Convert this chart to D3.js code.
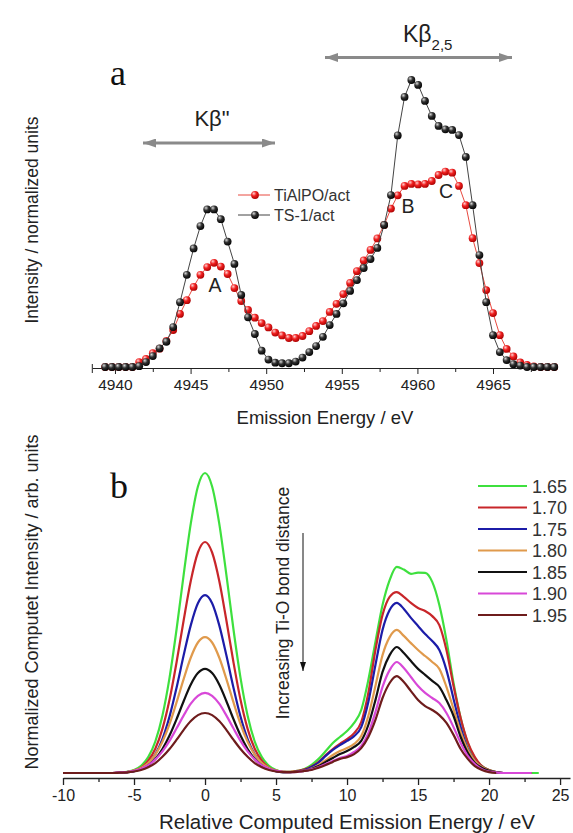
<!DOCTYPE html>
<html>
<head>
<meta charset="utf-8">
<script src="https://cdnjs.cloudflare.com/ajax/libs/d3/7.8.5/d3.min.js"></script>
<style>
  html, body { margin: 0; padding: 0; background: #fff; }
  svg { display: block; font-family: "Liberation Sans", Arial, sans-serif; }
</style>
</head>
<body>
<svg id="fig" width="573" height="833"></svg>
<script>
// ---------- Panel a: measured Ti Kβ emission spectra ----------
const energyA = [
  4939.35, 4939.80, 4940.25, 4940.70, 4941.15, 4941.60, 4942.05, 4942.50, 4942.95, 4943.40,
  4943.85, 4944.30, 4944.75, 4945.20, 4945.65, 4946.10, 4946.55, 4947.00, 4947.45, 4947.90,
  4948.35, 4948.80, 4949.25, 4949.70, 4950.15, 4950.60, 4951.05, 4951.50, 4951.95, 4952.40,
  4952.85, 4953.30, 4953.75, 4954.20, 4954.65, 4955.10, 4955.55, 4956.00, 4956.45, 4956.90,
  4957.35, 4957.80, 4958.25, 4958.70, 4959.15, 4959.60, 4960.05, 4960.50, 4960.95, 4961.40,
  4961.85, 4962.30, 4962.75, 4963.20, 4963.65, 4964.10, 4964.55, 4965.00, 4965.45, 4965.90,
  4966.35, 4966.80, 4967.25, 4967.70, 4968.15, 4968.60, 4969.05
];
const tiAlPO = [
  0, 0, 0, 0, 0, 0.017, 0.028, 0.048, 0.064, 0.091,
  0.129, 0.185, 0.233, 0.279, 0.321, 0.348, 0.363, 0.350, 0.324, 0.275,
  0.230, 0.199, 0.172, 0.153, 0.138, 0.120, 0.110, 0.101, 0.101, 0.108,
  0.125, 0.143, 0.160, 0.192, 0.220, 0.254, 0.293, 0.334, 0.371, 0.408,
  0.448, 0.495, 0.552, 0.598, 0.631, 0.638, 0.636, 0.638, 0.648, 0.669,
  0.681, 0.677, 0.631, 0.564, 0.449, 0.362, 0.268, 0.188, 0.111, 0.063,
  0.037, 0.016, 0.007, 0.002, 0, 0, 0
];
const ts1 = [
  0, 0, 0, 0, 0, 0.003, 0.017, 0.038, 0.065, 0.088,
  0.139, 0.226, 0.321, 0.413, 0.491, 0.549, 0.549, 0.515, 0.437, 0.359,
  0.251, 0.173, 0.115, 0.057, 0.026, 0.015, 0.013, 0.013, 0.019, 0.033,
  0.052, 0.073, 0.105, 0.146, 0.185, 0.222, 0.265, 0.303, 0.345, 0.376,
  0.415, 0.495, 0.599, 0.807, 0.941, 1.000, 0.983, 0.927, 0.875, 0.840,
  0.828, 0.826, 0.808, 0.732, 0.564, 0.390, 0.226, 0.111, 0.052, 0.024,
  0.010, 0.005, 0, 0, 0, 0, 0
];
const seriesNamesA = ["TiAlPO/act", "TS-1/act"];
const ticksA = [4940, 4945, 4950, 4955, 4960, 4965];
const minorTicksA = [4942.5, 4947.5, 4952.5, 4957.5, 4962.5, 4967.5];

// ---------- Panel b: computed spectra vs Ti-O bond length ----------
const relEnergy = [
  -10, -9.5, -9, -8.5, -8, -7.5, -7, -6.5, -6, -5.5,
  -5, -4.5, -4, -3.5, -3, -2.5, -2, -1.5, -1, -0.5,
  0, 0.5, 1, 1.5, 2, 2.5, 3, 3.5, 4, 4.5,
  5, 5.5, 6, 6.5, 7, 7.5, 8, 8.5, 9, 9.5,
  10, 10.5, 11, 11.5, 12, 12.5, 13, 13.5, 14, 14.5,
  15, 15.5, 16, 16.5, 17, 17.5, 18, 18.5, 19, 19.5,
  20, 20.5, 21, 21.5, 22, 22.5, 23, 23.5, 24
];
const bond165 = [
  0, 0, 0, 0, 0, 0, 0, 0, 0.001, 0.004,
  0.010, 0.024, 0.053, 0.105, 0.191, 0.317, 0.480, 0.662, 0.832, 0.955,
  1.000, 0.955, 0.832, 0.662, 0.480, 0.317, 0.191, 0.105, 0.053, 0.024,
  0.010, 0.005, 0.004, 0.007, 0.013, 0.027, 0.047, 0.073, 0.100, 0.120,
  0.140, 0.167, 0.210, 0.310, 0.437, 0.560, 0.643, 0.687, 0.678, 0.664,
  0.668, 0.667, 0.637, 0.560, 0.443, 0.300, 0.183, 0.100, 0.050, 0.023,
  0.010, 0.003, 0, 0, 0, 0, 0, 0, null
];
const bond170 = [
  0, 0, 0, 0, 0, 0, 0, 0, 0.001, 0.003,
  0.008, 0.018, 0.041, 0.081, 0.147, 0.244, 0.370, 0.510, 0.641, 0.735,
  0.770, 0.735, 0.641, 0.510, 0.370, 0.244, 0.147, 0.081, 0.041, 0.018,
  0.008, 0.004, 0.004, 0.007, 0.012, 0.022, 0.037, 0.060, 0.080, 0.097,
  0.113, 0.133, 0.170, 0.267, 0.410, 0.527, 0.587, 0.603, 0.587, 0.567,
  0.550, 0.540, 0.523, 0.493, 0.410, 0.290, 0.183, 0.103, 0.053, 0.023,
  0.010, 0.003, 0, 0, 0, 0, 0, null, null
];
const bond175 = [
  0, 0, 0, 0, 0, 0, 0, 0, 0.001, 0.003,
  0.006, 0.014, 0.031, 0.062, 0.113, 0.188, 0.285, 0.393, 0.493, 0.566,
  0.593, 0.566, 0.493, 0.393, 0.285, 0.188, 0.113, 0.062, 0.031, 0.014,
  0.006, 0.003, 0.003, 0.005, 0.010, 0.020, 0.035, 0.057, 0.077, 0.093,
  0.107, 0.123, 0.153, 0.237, 0.360, 0.477, 0.543, 0.567, 0.547, 0.517,
  0.490, 0.463, 0.440, 0.410, 0.343, 0.247, 0.153, 0.080, 0.040, 0.020,
  0.008, 0.003, 0, 0, null, null, null, null, null
];
const bond180 = [
  0, 0, 0, 0, 0, 0, 0, 0, 0.001, 0.003,
  0.008, 0.017, 0.033, 0.061, 0.104, 0.163, 0.236, 0.314, 0.385, 0.435,
  0.453, 0.435, 0.385, 0.314, 0.236, 0.163, 0.104, 0.061, 0.033, 0.017,
  0.008, 0.004, 0.003, 0.005, 0.008, 0.015, 0.027, 0.043, 0.060, 0.073,
  0.083, 0.097, 0.123, 0.190, 0.290, 0.393, 0.453, 0.477, 0.457, 0.433,
  0.410, 0.390, 0.370, 0.347, 0.287, 0.213, 0.137, 0.077, 0.040, 0.020,
  0.008, 0.003, 0, 0, 0, null, null, null, null
];
const bond185 = [
  0, 0, 0, 0, 0, 0, 0, 0, 0.001, 0.002,
  0.006, 0.013, 0.025, 0.047, 0.080, 0.125, 0.180, 0.240, 0.295, 0.333,
  0.347, 0.333, 0.295, 0.240, 0.180, 0.125, 0.080, 0.047, 0.025, 0.013,
  0.006, 0.003, 0.003, 0.005, 0.007, 0.013, 0.023, 0.037, 0.050, 0.063,
  0.073, 0.087, 0.107, 0.160, 0.243, 0.337, 0.393, 0.420, 0.400, 0.373,
  0.347, 0.327, 0.307, 0.287, 0.243, 0.190, 0.120, 0.067, 0.033, 0.017,
  0.007, 0.002, 0, null, null, null, null, null, null
];
const bond190 = [
  0, 0, 0, 0, 0, 0, 0, 0, 0.002, 0.003,
  0.007, 0.014, 0.026, 0.045, 0.072, 0.107, 0.149, 0.192, 0.231, 0.257,
  0.267, 0.257, 0.231, 0.192, 0.149, 0.107, 0.072, 0.045, 0.026, 0.014,
  0.007, 0.004, 0.003, 0.004, 0.007, 0.012, 0.020, 0.030, 0.040, 0.050,
  0.057, 0.070, 0.090, 0.133, 0.203, 0.287, 0.343, 0.370, 0.350, 0.320,
  0.290, 0.267, 0.250, 0.233, 0.200, 0.153, 0.100, 0.057, 0.030, 0.013,
  0.005, 0.002, 0, 0, 0, 0, 0, null, null
];
const bond195 = [
  0, 0, 0, 0, 0, 0, 0, 0, 0.001, 0.002,
  0.005, 0.010, 0.019, 0.033, 0.054, 0.080, 0.111, 0.144, 0.173, 0.193,
  0.200, 0.193, 0.173, 0.144, 0.111, 0.080, 0.054, 0.033, 0.019, 0.010,
  0.005, 0.003, 0.003, 0.004, 0.007, 0.010, 0.018, 0.027, 0.037, 0.047,
  0.053, 0.063, 0.083, 0.120, 0.177, 0.250, 0.300, 0.323, 0.303, 0.273,
  0.243, 0.223, 0.210, 0.193, 0.167, 0.127, 0.080, 0.047, 0.023, 0.010,
  0.003, 0, null, null, null, null, null, null, null
];
const bondLabels = ["1.65", "1.70", "1.75", "1.80", "1.85", "1.90", "1.95"];
const bondSeries = [bond165, bond170, bond175, bond180, bond185, bond190, bond195];
const bondColors = ["#3ee03e", "#c8262a", "#1c1ca8", "#e09a4c", "#111111", "#d848d8", "#6e1c1c"];
const ticksB = [-10, -5, 0, 5, 10, 15, 20, 25];
const minorTicksB = [-7.5, -2.5, 2.5, 7.5, 12.5, 17.5, 22.5];

const svg = d3.select("#fig");
const defs = svg.append("defs");
const plain = d => `${d}`;   // tick text as plain integers with hyphen minus

// shaded sphere fills for the data markers
function sphere(id, light, mid, dark) {
  const g = defs.append("radialGradient").attr("id", id)
    .attr("cx", "38%").attr("cy", "34%").attr("r", "70%").attr("fx", "34%").attr("fy", "30%");
  g.append("stop").attr("offset", "0%").attr("stop-color", light);
  g.append("stop").attr("offset", "45%").attr("stop-color", mid);
  g.append("stop").attr("offset", "100%").attr("stop-color", dark);
}
sphere("ballRed", "#ffd0d0", "#f02020", "#a80000");
sphere("ballBlack", "#d8d8d8", "#303030", "#000000");

function arrowHead(id, color, w, h) {
  defs.append("marker").attr("id", id)
    .attr("viewBox", `0 0 ${w} ${h}`).attr("refX", w).attr("refY", h / 2)
    .attr("markerWidth", w).attr("markerHeight", h).attr("markerUnits", "userSpaceOnUse")
    .attr("orient", "auto-start-reverse")
    .append("path").attr("d", `M0,0L${w},${h / 2}L0,${h}Z`).attr("fill", color);
}
arrowHead("grayHead", "#8a8a8a", 13, 9);
arrowHead("blackHead", "#111", 9, 6);

// ================= Panel a =================
const xA = d3.scaleLinear().domain([4938.5, 4969]).range([92.3, 553.5]);
const yA = d3.scaleLinear().domain([0, 1]).range([367, 80]);

const axA = svg.append("g").attr("transform", "translate(0,368)");
axA.call(d3.axisBottom(xA).tickValues(ticksA).tickFormat(plain).tickSize(6).tickSizeOuter(0).tickPadding(5));
axA.append("g").call(d3.axisBottom(xA).tickValues(minorTicksA).tickSize(4).tickFormat(""))
  .select(".domain").remove();
axA.selectAll("path.domain").attr("stroke", "#222");
axA.selectAll(".tick line").attr("stroke", "#222");
axA.selectAll(".tick text").attr("font-size", 15.5).attr("fill", "#222")
  .attr("font-family", "Liberation Sans, Arial, sans-serif");
axA.append("line").attr("x1", xA(4938.5)).attr("x2", xA(4938.5)).attr("y1", -4).attr("y2", 5)
  .attr("stroke", "#222");

svg.append("text").attr("x", 325).attr("y", 424).attr("text-anchor", "middle")
  .attr("font-size", 18.5).attr("fill", "#222").text("Emission Energy / eV");
svg.append("text").attr("transform", "translate(38,220) rotate(-90)").attr("text-anchor", "middle")
  .attr("font-size", 17.5).attr("fill", "#222").text("Intensity / normalized units");

const lineA = d3.line().x(d => xA(d[0])).y(d => yA(d[1]));
const ptsRed = energyA.map((e, i) => [e, tiAlPO[i]]);
const ptsBlack = energyA.map((e, i) => [e, ts1[i]]);

svg.append("path").attr("d", lineA(ptsRed)).attr("fill", "none").attr("stroke", "#e84a40").attr("stroke-width", 1);
svg.append("g").selectAll("circle").data(ptsRed).join("circle")
  .attr("cx", d => xA(d[0])).attr("cy", d => yA(d[1])).attr("r", 3.9).attr("fill", "url(#ballRed)");
svg.append("path").attr("d", lineA(ptsBlack)).attr("fill", "none").attr("stroke", "#444").attr("stroke-width", 1);
svg.append("g").selectAll("circle").data(ptsBlack).join("circle")
  .attr("cx", d => xA(d[0])).attr("cy", d => yA(d[1])).attr("r", 3.9).attr("fill", "url(#ballBlack)");

// legend a
const legA = svg.append("g");
[["#e84a40", "url(#ballRed)"], ["#444", "url(#ballBlack)"]].forEach((s, i) => {
  const y = 195 + i * 20;
  legA.append("line").attr("x1", 238).attr("x2", 270).attr("y1", y).attr("y2", y)
    .attr("stroke", s[0]).attr("stroke-width", 1);
  legA.append("circle").attr("cx", 255).attr("cy", y).attr("r", 3.9).attr("fill", s[1]);
  legA.append("text").attr("x", 274).attr("y", y + 5.5).attr("font-size", 16).attr("fill", "#333")
    .text(seriesNamesA[i]);
});

// peak letters
[["A", 215, 292], ["B", 408, 213], ["C", 446, 198]].forEach(p => {
  svg.append("text").attr("x", p[1]).attr("y", p[2]).attr("text-anchor", "middle")
    .attr("font-size", 19.5).attr("fill", "#222").text(p[0]);
});

// region arrows and labels
svg.append("line").attr("x1", 143).attr("x2", 275).attr("y1", 143).attr("y2", 143)
  .attr("stroke", "#8a8a8a").attr("stroke-width", 3)
  .attr("marker-start", "url(#grayHead)").attr("marker-end", "url(#grayHead)");
svg.append("line").attr("x1", 325).attr("x2", 512).attr("y1", 57.5).attr("y2", 57.5)
  .attr("stroke", "#8a8a8a").attr("stroke-width", 3)
  .attr("marker-start", "url(#grayHead)").attr("marker-end", "url(#grayHead)");
svg.append("text").attr("x", 212).attr("y", 126).attr("text-anchor", "middle")
  .attr("font-size", 22).attr("fill", "#222").text("Kβ\"");
const kb = svg.append("text").attr("x", 403).attr("y", 42).attr("font-size", 23).attr("fill", "#222");
kb.append("tspan").text("Kβ");
kb.append("tspan").attr("font-size", 15).attr("dy", 8).text("2,5");

svg.append("text").attr("x", 110).attr("y", 85).attr("font-family", "Liberation Serif, Times New Roman, serif")
  .attr("font-size", 36).attr("fill", "#111").text("a");

// ================= Panel b =================
const xB = d3.scaleLinear().domain([-10, 25.7]).range([63, 570]);
const yB = d3.scaleLinear().domain([0, 1]).range([773, 473]);

const axB = svg.append("g").attr("transform", "translate(0,778)");
axB.call(d3.axisBottom(xB).tickValues(ticksB).tickFormat(plain).tickSize(7).tickSizeOuter(0).tickPadding(5));
axB.append("g").call(d3.axisBottom(xB).tickValues(minorTicksB).tickSize(4).tickFormat(""))
  .select(".domain").remove();
axB.selectAll("path.domain").attr("stroke", "#222").attr("stroke-width", 1.3);
axB.selectAll(".tick line").attr("stroke", "#222").attr("stroke-width", 1.3);
axB.selectAll(".tick text").attr("font-size", 16).attr("fill", "#222")
  .attr("font-family", "Liberation Sans, Arial, sans-serif");

svg.append("text").attr("x", 347).attr("y", 829).attr("text-anchor", "middle")
  .attr("font-size", 20.5).attr("fill", "#222").text("Relative Computed Emission Energy / eV");
svg.append("text").attr("transform", "translate(38,602) rotate(-90)").attr("text-anchor", "middle")
  .attr("font-size", 18).attr("fill", "#222").text("Normalized Computet Intensity / arb. units");

const lineB = d3.line().defined(d => d[1] !== null)
  .x(d => xB(d[0])).y(d => yB(d[1])).curve(d3.curveMonotoneX);
bondSeries.forEach((vals, k) => {
  svg.append("path").attr("d", lineB(relEnergy.map((e, i) => [e, vals[i]])))
    .attr("fill", "none").attr("stroke", bondColors[k]).attr("stroke-width", 2.2)
    .attr("stroke-linejoin", "round");
});

// legend b
bondLabels.forEach((lab, k) => {
  const y = 486 + k * 21.5;
  svg.append("line").attr("x1", 478).attr("x2", 527).attr("y1", y).attr("y2", y)
    .attr("stroke", bondColors[k]).attr("stroke-width", 2.2);
  svg.append("text").attr("x", 532).attr("y", y + 6.5).attr("font-size", 18).attr("fill", "#333").text(lab);
});

// trend note
svg.append("text").attr("transform", "translate(289,603) rotate(-90)").attr("text-anchor", "middle")
  .attr("font-size", 17.5).attr("fill", "#222").text("Increasing Ti-O bond distance");
svg.append("line").attr("x1", 303).attr("x2", 303).attr("y1", 533).attr("y2", 671)
  .attr("stroke", "#111").attr("stroke-width", 1).attr("marker-end", "url(#blackHead)");

svg.append("text").attr("x", 110).attr("y", 498).attr("font-family", "Liberation Serif, Times New Roman, serif")
  .attr("font-size", 36).attr("fill", "#111").text("b");
</script>
</body>
</html>
